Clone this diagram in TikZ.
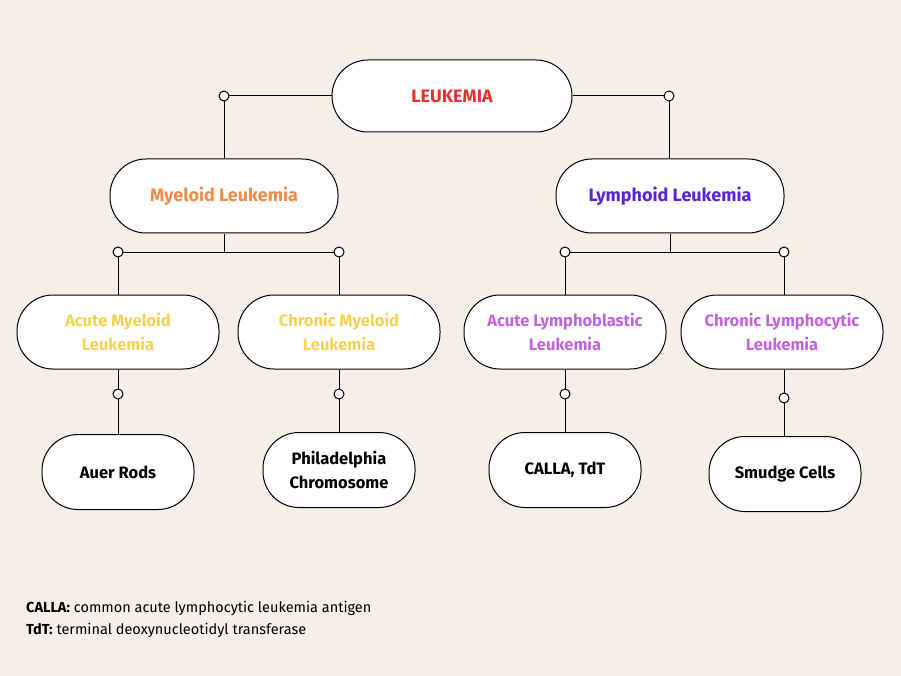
\documentclass[tikz,border=0pt]{standalone}
\usepackage{fontspec}
\setmainfont{Fira Sans}
\begin{document}
\begin{tikzpicture}[x=1pt,y=-1pt,
  box/.style={draw=black,line width=1pt,fill=white,rounded corners=36pt,minimum width=#1,minimum height=74pt,align=center,font=\fontsize{18}{22}\selectfont\bfseries},
  sub/.style={font=\fontsize{16.5}{24}\selectfont\bfseries},
  dot/.style={circle,draw=black,fill=white,line width=1pt,inner sep=0pt,minimum size=10pt},
  ln/.style={line width=1pt}]
\fill[fill={rgb,255:red,244;green,239;blue,232}] (0,0) rectangle (901,676);
\definecolor{cRed}{RGB}{232,48,47}
\definecolor{cOr}{RGB}{240,138,75}
\definecolor{cPu}{RGB}{91,34,217}
\definecolor{cYe}{RGB}{247,209,84}
\definecolor{cVi}{RGB}{196,99,224}
\node[box=240pt,minimum height=72pt,text=cRed] (L) at (452,96) {LEUKEMIA};
\node[box=228pt,text=cOr] (M) at (224,196) {Myeloid Leukemia};
\node[box=228pt,text=cPu] (Y) at (670,196) {Lymphoid Leukemia};
\node[box=202pt,text=cYe,sub] (AM) at (118,332) {Acute Myeloid\\Leukemia};
\node[box=202pt,text=cYe,sub] (CM) at (339,332) {Chronic Myeloid\\Leukemia};
\node[box=202pt,text=cVi,sub] (AL) at (565,332) {Acute Lymphoblastic\\Leukemia};
\node[box=202pt,text=cVi,sub] (CL) at (782,332) {Chronic Lymphocytic\\Leukemia};
\node[box=152pt,minimum height=75pt,sub] (G1) at (118,472) {Auer Rods};
\node[box=152pt,minimum height=75pt,sub] (G2) at (339,470) {Philadelphia\\Chromosome};
\node[box=152pt,minimum height=75pt,sub] (G3) at (565,470) {CALLA, TdT};
\node[box=152pt,minimum height=75pt,sub] (G4) at (785,474) {Smudge Cells};
\coordinate (p1) at (224,96); \coordinate (p2) at (669,96);
\draw[ln] (L.west) -- (p1) -- (M.north);
\draw[ln] (L.east) -- (p2) -- (Y.north -| p2);
\coordinate (b1) at (224,252); \coordinate (b2) at (670,252);
\coordinate (q1) at (118,252); \coordinate (q2) at (339,252);
\coordinate (q3) at (565,252); \coordinate (q4) at (784,252);
\draw[ln] (M.south) -- (b1); \draw[ln] (q1) -- (q2);
\draw[ln] (q1) -- (AM.north -| q1); \draw[ln] (q2) -- (CM.north -| q2);
\draw[ln] (Y.south) -- (b2); \draw[ln] (q3) -- (q4);
\draw[ln] (q3) -- (AL.north -| q3); \draw[ln] (q4) -- (CL.north -| q4);
\coordinate (r1) at (118,394); \coordinate (r2) at (339,394);
\coordinate (r3) at (565,394); \coordinate (r4) at (784,398);
\draw[ln] (AM.south) -- (G1.north);
\draw[ln] (CM.south) -- (G2.north);
\draw[ln] (AL.south) -- (G3.north);
\draw[ln] (CL.south -| r4) -- (G4.north -| r4);
\foreach \c in {p1,p2,q1,q2,q3,q4,r1,r2,r3,r4} \node[dot] at (\c) {};
\node[anchor=west,font=\fontsize{14.5}{18}\selectfont,inner sep=0pt] (n1) at (26,608) {\textbf{CALLA:} common acute lymphocytic leukemia antigen};
\node[anchor=west,font=\fontsize{14.5}{18}\selectfont,inner sep=0pt] (n2) at (26,630) {\textbf{TdT:} terminal deoxynucleotidyl transferase};
\end{tikzpicture}
\end{document}
